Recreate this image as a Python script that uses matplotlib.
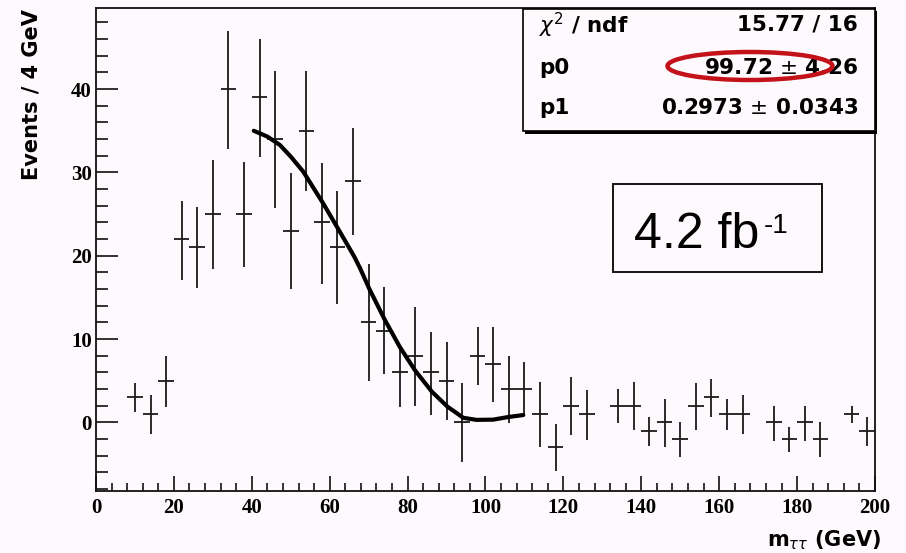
import matplotlib
matplotlib.use('Agg')
import matplotlib.pyplot as plt
from matplotlib.patches import Rectangle, Ellipse
import numpy as np

# bin centres (4 GeV bins), content and error bar ends
x = [10, 14, 18, 22, 26, 30, 34, 38, 42, 46, 50, 54, 58, 62, 66, 70, 74, 78, 82, 86,
     90, 94, 98, 102, 106, 110, 114, 118, 122, 126, 134, 138, 142, 146, 150, 154, 158,
     162, 166, 174, 178, 182, 186, 194, 198]
y = [3, 1, 5, 22, 21, 25, 40, 25, 39, 34, 23, 35, 24, 21, 29, 12, 11, 6, 8, 6,
     5, 0, 8, 7, 4, 4, 1, -3, 2, 1, 2, 2, -1, 0, -2, 2, 3,
     1, 1, 0, -2, 0, -2, 1, -1]
y_lo = [1.2, -1.4, 1.9, 17.1, 16.1, 18.4, 32.8, 18.6, 31.9, 25.7, 16.0, 27.8, 16.6, 14.2, 22.5, 5.0, 5.8, 1.9, 2.0, 0.9,
        0.3, -4.7, 4.5, 2.5, -0.1, 0.8, -3.0, -5.8, -1.5, -2.1, -0.1, -0.9, -2.8, -3.0, -4.1, -0.9, 0.6,
        -0.9, -1.4, -2.2, -3.5, -2.2, -4.1, -0.1, -2.8]
y_hi = [4.7, 3.3, 8.0, 26.6, 25.8, 31.5, 47.0, 31.3, 46.0, 42.2, 29.9, 42.2, 31.1, 27.8, 35.3, 19.0, 16.2, 9.2, 13.8, 10.9,
        9.6, 4.7, 11.4, 11.4, 8.0, 7.2, 4.9, -0.2, 5.4, 3.9, 4.0, 4.8, 0.7, 2.8, 0.0, 4.7, 5.2,
        2.8, 3.3, 2.0, -0.6, 2.0, 0.0, 2.0, 0.7]

# fit curve
fit_x = [40.5, 44.0, 47.2, 50.0, 53.2, 58.3, 62.2, 66.3, 67.8, 70.2, 74.1, 78, 81.9, 86.2,
         90.2, 94.3, 97.7, 102, 105.9, 109.7]
fit_y = [35.0, 34.3, 33.3, 31.9, 30.1, 26.3, 23.2, 19.9, 18.5, 16.0, 12.35, 9.05, 6.25, 3.7,
         1.9, 0.55, 0.3, 0.33, 0.65, 0.88]

stat_names = [r'$\chi^{2}$ / ndf', 'p0', 'p1']
stat_vals = ['15.77 / 16', '99.72 $\\pm$ 4.26', '0.2973 $\\pm$ 0.0343']

bg = '#fdf9fd'
W, H = 906, 553

fig = plt.figure(figsize=(9.06, 5.53), dpi=100, facecolor=bg)
ax = fig.add_axes([96 / W, 1 - 490.7 / H, 779 / W, 482.4 / H], facecolor=bg)

x = np.array(x)
y = np.array(y)
err = [y - np.array(y_lo), np.array(y_hi) - y]
ax.errorbar(x, y, xerr=2, yerr=err, fmt='none', ecolor='#1a1a1a', elinewidth=1.3, capsize=0, clip_on=True)
ax.plot(fit_x, fit_y, color='black', lw=3, solid_capstyle='round')

ax.set_xlim(0, 200)
ax.set_ylim(-8.2, 49.7)
ax.set_xticks(np.arange(0, 201, 20))
ax.set_xticks(np.arange(0, 201, 4), minor=True)
ax.set_yticks(np.arange(0, 41, 10))
ax.set_yticks(np.arange(-8, 49, 2), minor=True)
ax.tick_params(axis='both', which='both', direction='in', top=False, right=False, color='#111')
ax.tick_params(axis='x', which='major', length=11, width=1.2, pad=5)
ax.tick_params(axis='x', which='minor', length=5.5, width=1.2)
ax.tick_params(axis='y', which='major', length=16, width=1.2, pad=3)
ax.tick_params(axis='y', which='minor', length=8.5, width=1.2)
for lab in ax.get_xticklabels() + ax.get_yticklabels():
    lab.set_family('Liberation Serif')
    lab.set_weight('bold')
    lab.set_size(15)
for s in ax.spines.values():
    s.set_linewidth(1.3)
    s.set_color('#111')

# axis titles
fig.text(32 / W, 1 - 9 / H, 'Events / 4 GeV', rotation=90, ha='center', va='top',
         fontsize=15, fontweight='bold', family='DejaVu Sans')
fig.text(881 / W, 1 - 540 / H, r'$\mathbf{m}_{\tau\tau}$ (GeV)', ha='right', va='center',
         fontsize=15, fontweight='bold', family='DejaVu Sans')

# stats box with shadow
tf = fig.transFigure
fig.patches.append(Rectangle((525 / W, 1 - 133.5 / H), 352 / W, 123 / H, transform=tf,
                             facecolor='black', edgecolor='none', zorder=5))
fig.patches.append(Rectangle((522.5 / W, 1 - 131 / H), 352 / W, 122.5 / H, transform=tf,
                             facecolor=bg, edgecolor='black', lw=1.2, zorder=6))
row_y = [25, 68, 108]
for name, val, ry in zip(stat_names, stat_vals, row_y):
    fig.text(539 / W, 1 - ry / H, name, ha='left', va='center', fontsize=15.5,
             fontweight='bold', family='DejaVu Sans', zorder=7)
    fig.text(858 / W, 1 - ry / H, val, ha='right', va='center', fontsize=15.5,
             fontweight='bold', family='DejaVu Sans', zorder=7)

# red circle around p0
fig.patches.append(Ellipse((750 / W, 1 - 66 / H), 165 / W, 28 / H, transform=tf,
                           facecolor='none', edgecolor='#c4121a', lw=3.2, zorder=8))

# luminosity box
fig.patches.append(Rectangle((613 / W, 1 - 271.5 / H), 208.5 / W, 87.5 / H, transform=tf,
                             facecolor=bg, edgecolor='black', lw=1.3, zorder=6))
fig.text(634 / W, 1 - 248.5 / H, '4.2 fb', ha='left', va='baseline',
         fontsize=36, family='Liberation Sans', zorder=7)
fig.text(764 / W, 1 - 233 / H, '-1', ha='left', va='baseline',
         fontsize=20, family='Liberation Sans', zorder=7)

plt.savefig('out.png', dpi=100, facecolor=bg)
